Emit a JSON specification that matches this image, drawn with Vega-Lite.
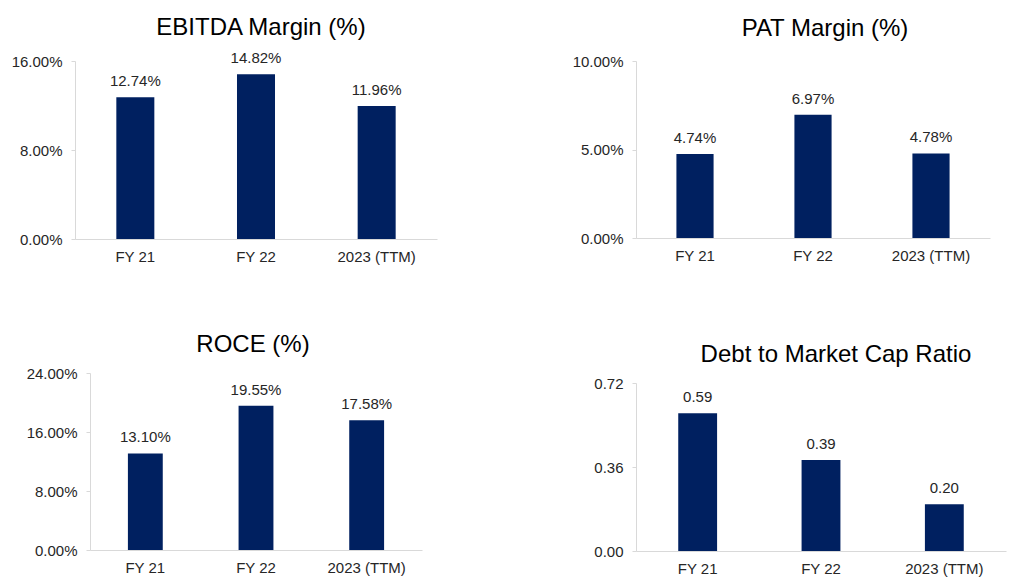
{
  "$schema": "https://vega.github.io/schema/vega-lite/v6.json",
  "padding": {"left": 11, "top": 16, "right": 5, "bottom": 5},
  "background": "white",
  "datasets": {
    "metrics": [
      {"metric": "EBITDA", "period": "FY 21", "value": 0.1274},
      {"metric": "EBITDA", "period": "FY 22", "value": 0.1482},
      {"metric": "EBITDA", "period": "2023 (TTM)", "value": 0.1196},
      {"metric": "PAT", "period": "FY 21", "value": 0.0474},
      {"metric": "PAT", "period": "FY 22", "value": 0.0697},
      {"metric": "PAT", "period": "2023 (TTM)", "value": 0.0478},
      {"metric": "ROCE", "period": "FY 21", "value": 0.1310},
      {"metric": "ROCE", "period": "FY 22", "value": 0.1955},
      {"metric": "ROCE", "period": "2023 (TTM)", "value": 0.1758},
      {"metric": "Debt", "period": "FY 21", "value": 0.59},
      {"metric": "Debt", "period": "FY 22", "value": 0.39},
      {"metric": "Debt", "period": "2023 (TTM)", "value": 0.20}
    ]
  },
  "hconcat": [
    {
      "vconcat": [
        {
          "width": 362, "height": 178,
          "title": {"text": "EBITDA Margin (%)", "frame": "group", "dx": 5, "offset": 11},
          "data": {"name": "metrics"},
          "transform": [{"filter": "datum.metric === 'EBITDA'"}],
          "encoding": {
            "x": {"field": "period", "type": "nominal", "sort": null, "title": null, "scale": {"paddingInner": 0.685, "paddingOuter": 0.3425}},
            "y": {"field": "value", "type": "quantitative", "title": null, "scale": {"domain": [0, 0.16]}, "axis": {"values": [0, 0.08, 0.16], "format": ".2%"}}
          },
          "layer": [
            {"mark": {"type": "bar", "color": "#002060"}},
            {"mark": {"type": "text", "dy": -11, "baseline": "alphabetic", "fontSize": 15, "color": "#262626", "font": "Liberation Sans"}, "encoding": {"text": {"field": "value", "type": "quantitative", "format": ".2%"}}}
          ]
        },
        {
          "width": 332, "height": 177,
          "title": {"text": "ROCE (%)", "frame": "group", "dx": -3, "offset": 9},
          "data": {"name": "metrics"},
          "transform": [{"filter": "datum.metric === 'ROCE'"}],
          "encoding": {
            "x": {"field": "period", "type": "nominal", "sort": null, "title": null, "scale": {"paddingInner": 0.685, "paddingOuter": 0.3425}},
            "y": {"field": "value", "type": "quantitative", "title": null, "scale": {"domain": [0, 0.24]}, "axis": {"values": [0, 0.08, 0.16, 0.24], "format": ".2%"}}
          },
          "layer": [
            {"mark": {"type": "bar", "color": "#002060"}},
            {"mark": {"type": "text", "dy": -11, "baseline": "alphabetic", "fontSize": 15, "color": "#262626", "font": "Liberation Sans"}, "encoding": {"text": {"field": "value", "type": "quantitative", "format": ".2%"}}}
          ]
        }
      ],
      "spacing": 69,
      "center": true,
      "bounds": "full"
    },
    {
      "vconcat": [
        {
          "width": 354, "height": 177,
          "title": {"text": "PAT Margin (%)", "frame": "group", "dx": 12, "offset": 13},
          "data": {"name": "metrics"},
          "transform": [{"filter": "datum.metric === 'PAT'"}],
          "encoding": {
            "x": {"field": "period", "type": "nominal", "sort": null, "title": null, "scale": {"paddingInner": 0.685, "paddingOuter": 0.3425}},
            "y": {"field": "value", "type": "quantitative", "title": null, "scale": {"domain": [0, 0.10]}, "axis": {"values": [0, 0.05, 0.10], "format": ".2%"}}
          },
          "layer": [
            {"mark": {"type": "bar", "color": "#002060"}},
            {"mark": {"type": "text", "dy": -11, "baseline": "alphabetic", "fontSize": 15, "color": "#262626", "font": "Liberation Sans"}, "encoding": {"text": {"field": "value", "type": "quantitative", "format": ".2%"}}}
          ]
        },
        {
          "width": 370, "height": 168,
          "title": {"text": "Debt to Market Cap Ratio", "frame": "group", "dx": 15, "offset": 9},
          "data": {"name": "metrics"},
          "transform": [{"filter": "datum.metric === 'Debt'"}],
          "encoding": {
            "x": {"field": "period", "type": "nominal", "sort": null, "title": null, "scale": {"paddingInner": 0.685, "paddingOuter": 0.3425}},
            "y": {"field": "value", "type": "quantitative", "title": null, "scale": {"domain": [0, 0.72]}, "axis": {"values": [0, 0.36, 0.72], "format": ".2f"}}
          },
          "layer": [
            {"mark": {"type": "bar", "color": "#002060"}},
            {"mark": {"type": "text", "dy": -11, "baseline": "alphabetic", "fontSize": 15, "color": "#262626", "font": "Liberation Sans"}, "encoding": {"text": {"field": "value", "type": "quantitative", "format": ".2f"}}}
          ]
        }
      ],
      "spacing": 145,
      "bounds": "flush"
    }
  ],
  "spacing": 135,
  "bounds": "full",
  "config": {
    "view": {"stroke": null},
    "font": "Liberation Sans",
    "title": {"font": "Liberation Sans", "fontSize": 24, "fontWeight": "normal", "color": "#000000", "anchor": "middle"},
    "axis": {"labelFont": "Liberation Sans", "labelFontSize": 15, "labelColor": "#262626", "domainColor": "#d9d9d9", "tickColor": "#d9d9d9", "grid": false},
    "axisX": {"labelAngle": 0, "ticks": false, "labelPadding": 10},
    "axisY": {"tickSize": 4, "labelPadding": 9}
  }
}
